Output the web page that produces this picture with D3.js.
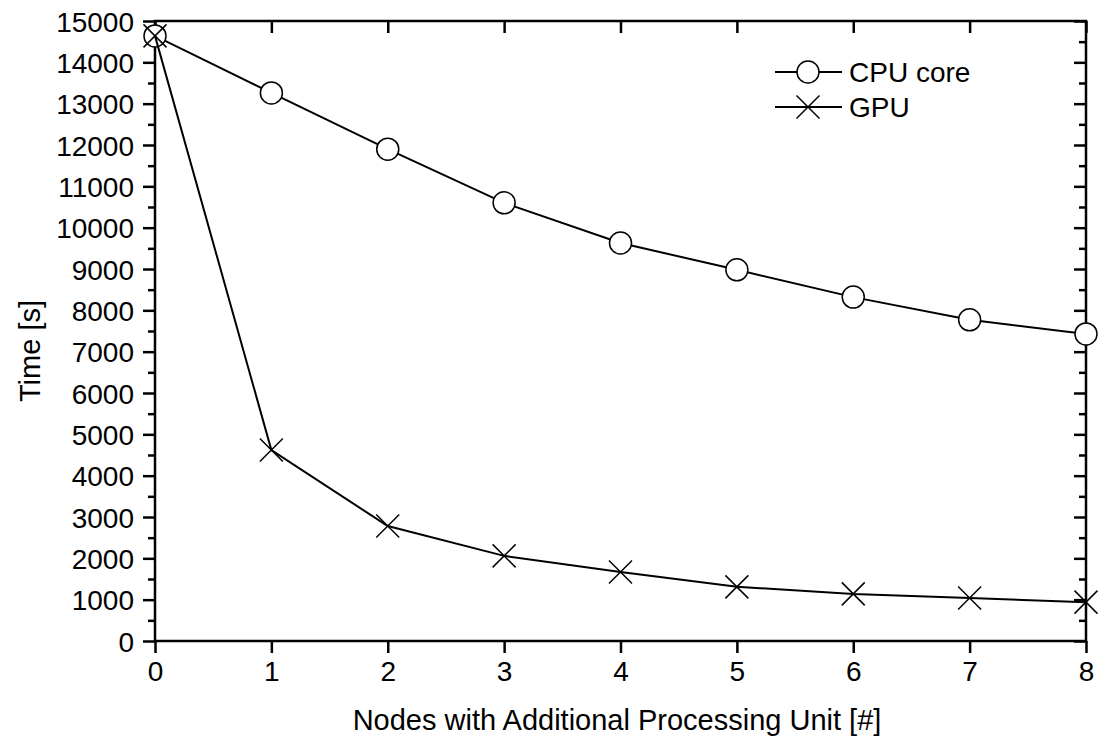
<!DOCTYPE html>
<html>
<head>
<meta charset="utf-8">
<script src="https://cdn.jsdelivr.net/npm/d3@7"></script>
<style>
  body { margin: 0; background: #fff; }
  svg text { font-family: "Liberation Sans", Arial, sans-serif; fill: #000; }
</style>
</head>
<body>
<svg id="chart" width="1098" height="738"></svg>
<script>
const nodes = [0, 1, 2, 3, 4, 5, 6, 7, 8];
const cpuTime = [14640, 13260, 11900, 10600, 9630, 8980, 8320, 7770, 7430];
const gpuTime = [14640, 4620, 2780, 2060, 1670, 1310, 1140, 1040, 940];
const yTicks = d3.range(0, 15001, 1000);
const yMinor = d3.range(500, 15000, 1000);
const seriesNames = ['CPU core', 'GPU'];

const svg = d3.select('#chart');
const margin = {left: 155, right: 12, top: 21, bottom: 97};
const W = 1098, H = 738;
const x = d3.scaleLinear().domain([0, 8]).range([margin.left, W - margin.right]);
const y = d3.scaleLinear().domain([0, 15000]).range([H - margin.bottom, margin.top]);

const axisStyle = (g) => {
  g.select('.domain').remove();
  g.selectAll('line').attr('stroke', '#000').attr('stroke-width', 2.5);
  g.selectAll('text').attr('font-size', null).style('font-size', '28px');
};

// left axis
svg.append('g')
  .attr('transform', `translate(${margin.left},0)`)
  .call(d3.axisLeft(y).tickValues(yTicks).tickSize(12).tickPadding(9).tickFormat(d3.format('d')))
  .call(axisStyle)
  .selectAll('text').attr('dy', '0.36em');
svg.append('g')
  .attr('transform', `translate(${margin.left},0)`)
  .call(d3.axisLeft(y).tickValues(yMinor).tickSize(7).tickFormat(''))
  .call(axisStyle);

// right axis (inward ticks)
svg.append('g')
  .attr('transform', `translate(${W - margin.right},0)`)
  .call(d3.axisLeft(y).tickValues(yTicks).tickSize(12).tickFormat(''))
  .call(axisStyle);
svg.append('g')
  .attr('transform', `translate(${W - margin.right},0)`)
  .call(d3.axisLeft(y).tickValues(yMinor).tickSize(7).tickFormat(''))
  .call(axisStyle);

// bottom axis
svg.append('g')
  .attr('transform', `translate(0,${H - margin.bottom})`)
  .call(d3.axisBottom(x).tickValues(nodes).tickSize(12).tickPadding(8).tickFormat(d3.format('d')))
  .call(axisStyle);

// top axis (inward ticks)
svg.append('g')
  .attr('transform', `translate(0,${margin.top})`)
  .call(d3.axisBottom(x).tickValues(nodes).tickSize(12).tickFormat(''))
  .call(axisStyle);

// frame
svg.append('rect')
  .attr('x', margin.left).attr('y', margin.top)
  .attr('width', W - margin.left - margin.right)
  .attr('height', H - margin.top - margin.bottom)
  .attr('fill', 'none').attr('stroke', '#000').attr('stroke-width', 2.5);

const line = d3.line().x((d, i) => x(nodes[i])).y(d => y(d));

function drawSeries(values, marker) {
  svg.append('path')
    .datum(values)
    .attr('d', line)
    .attr('fill', 'none').attr('stroke', '#000').attr('stroke-width', 2);
  const g = svg.append('g');
  values.forEach((v, i) => drawMarker(g, x(nodes[i]), y(v), marker));
}

function drawMarker(g, cx, cy, marker) {
  if (marker === 'circle') {
    g.append('circle').attr('cx', cx).attr('cy', cy).attr('r', 11)
      .attr('fill', '#fff').attr('stroke', '#000').attr('stroke-width', 1.5);
  } else {
    const s = 11.5;
    g.append('path')
      .attr('d', `M${cx - s},${cy - s}L${cx + s},${cy + s}M${cx - s},${cy + s}L${cx + s},${cy - s}`)
      .attr('stroke', '#000').attr('stroke-width', 1.5).attr('fill', 'none');
  }
}

drawSeries(cpuTime, 'circle');
drawSeries(gpuTime, 'cross');

// legend
const legend = svg.append('g');
['circle', 'cross'].forEach((m, i) => {
  const ly = 72 + i * 35;
  legend.append('line').attr('x1', 775).attr('x2', 842).attr('y1', ly).attr('y2', ly)
    .attr('stroke', '#000').attr('stroke-width', 2);
  drawMarker(legend, 808, ly, m);
  legend.append('text').attr('x', 849).attr('y', ly).attr('dy', '0.36em')
    .style('font-size', '28px').text(seriesNames[i]);
});

// axis titles
svg.append('text')
  .attr('x', 617).attr('y', 730)
  .attr('text-anchor', 'middle').style('font-size', '29px')
  .text('Nodes with Additional Processing Unit [#]');
svg.append('text')
  .attr('transform', `translate(40,351) rotate(-90)`)
  .attr('text-anchor', 'middle').style('font-size', '29px')
  .text('Time [s]');
</script>
</body>
</html>
